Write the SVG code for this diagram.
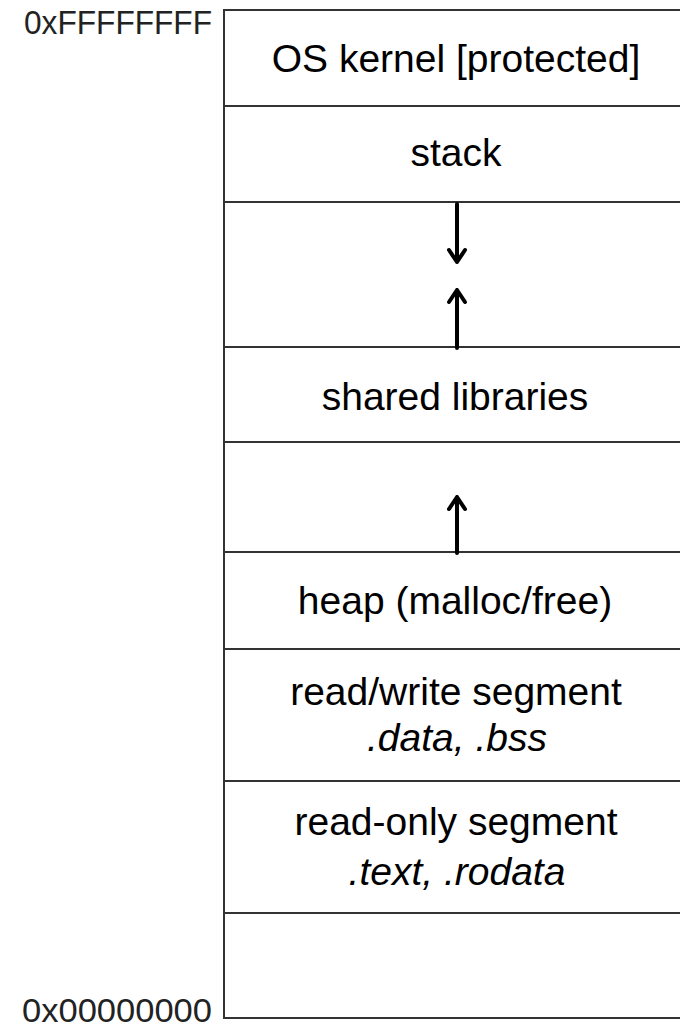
<svg xmlns="http://www.w3.org/2000/svg" width="680" height="1028" viewBox="0 0 680 1028">
<style>
.seg{fill:#fff;stroke:#333;stroke-width:2}
.t{font-family:"Liberation Sans",Arial,sans-serif;font-size:39px;fill:#000;text-anchor:middle}
.i{font-style:italic}
.addr{font-family:"Liberation Sans",Arial,sans-serif;font-size:33px;fill:#222}
.arr{stroke:#000;stroke-width:4;fill:none;stroke-linecap:round;stroke-linejoin:round}
</style>
<rect width="680" height="1028" fill="#fff"/>
<g id="kernel"><rect class="seg" x="224" y="10" width="470" height="96"/><text class="t" x="456" y="72">OS kernel [protected]</text></g>
<g id="stack"><rect class="seg" x="224" y="106" width="470" height="96"/><text class="t" x="456" y="166">stack</text></g>
<g id="gap1"><rect class="seg" x="224" y="202" width="470" height="145"/></g>
<g id="shared"><rect class="seg" x="224" y="347" width="470" height="95"/><text class="t" x="455" y="410">shared libraries</text></g>
<g id="gap2"><rect class="seg" x="224" y="442" width="470" height="110"/></g>
<g id="heap"><rect class="seg" x="224" y="552" width="470" height="97"/><text class="t" x="455" y="614">heap (malloc/free)</text></g>
<g id="rw"><rect class="seg" x="224" y="649" width="470" height="132"/><text class="t" x="456" y="705">read/write segment</text><text class="t i" x="457" y="751">.data, .bss</text></g>
<g id="ro"><rect class="seg" x="224" y="781" width="470" height="132"/><text class="t" x="456" y="835">read-only segment</text><text class="t i" x="457" y="885">.text, .rodata</text></g>
<g id="bottom"><rect class="seg" x="224" y="913" width="470" height="105"/></g>
<g id="labels">
<text class="addr" x="24" y="34" textLength="188" lengthAdjust="spacingAndGlyphs">0xFFFFFFFF</text>
<text class="addr" x="22" y="1022" textLength="190" lengthAdjust="spacingAndGlyphs">0x00000000</text>
</g>
<g id="connectors">
<path class="arr" d="M457 204 V262 M449 250 L457 262 L465 250"/>
<path class="arr" d="M457 348 V290 M449 302 L457 290 L465 302"/>
<path class="arr" d="M457 553 V497 M449 509 L457 497 L465 509"/>
</g>
</svg>
